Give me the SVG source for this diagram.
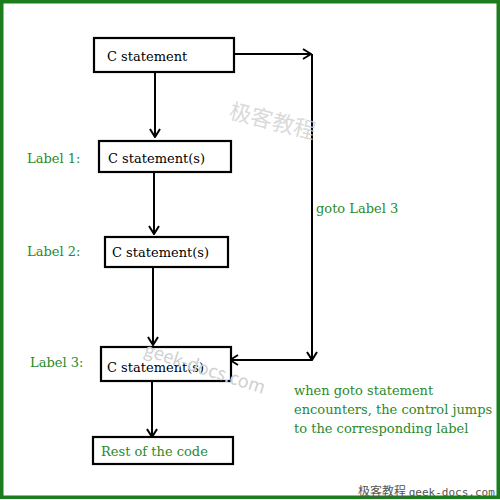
<svg xmlns="http://www.w3.org/2000/svg" width="500" height="500" viewBox="0 0 500 500">
<style>
.box{fill:#fff;stroke:#000;stroke-width:2.2}
.t{font-family:"DejaVu Serif","Liberation Serif",serif;font-size:13px;fill:#000}
.g{font-family:"DejaVu Serif","Liberation Serif",serif;font-size:13px;fill:#2a8a2a}
.ln{fill:none;stroke:#000;stroke-width:2}
.wm{font-family:"Noto Sans CJK SC","DejaVu Sans Mono",sans-serif;fill:#d0d0d0}
</style>
<defs>
<marker id="ah" viewBox="0 0 10 12" refX="9" refY="6" markerWidth="10" markerHeight="12" markerUnits="userSpaceOnUse" orient="auto">
<path d="M1,1 L9,6 L1,11" fill="none" stroke="#000" stroke-width="2"/>
</marker>
</defs>
<rect x="0" y="0" width="500" height="500" fill="#fff"/>
<rect x="1.75" y="1.75" width="496.5" height="495.5" fill="none" stroke="#1b7d1b" stroke-width="3.5"/>
<g id="connectors">
<line class="ln" x1="155" y1="73" x2="155" y2="137" marker-end="url(#ah)"/>
<line class="ln" x1="154" y1="173" x2="154" y2="234" marker-end="url(#ah)"/>
<line class="ln" x1="153" y1="268" x2="153" y2="345" marker-end="url(#ah)"/>
<line class="ln" x1="152" y1="382" x2="152" y2="437" marker-end="url(#ah)"/>
<line class="ln" x1="234" y1="54" x2="311" y2="54" marker-end="url(#ah)"/>
<line class="ln" x1="312" y1="54" x2="312" y2="360" marker-end="url(#ah)"/>
<line class="ln" x1="312" y1="360" x2="230" y2="360" marker-end="url(#ah)"/>
<text class="g" x="316" y="213">goto Label 3</text>
<text class="g" x="294" y="395">when goto statement</text>
<text class="g" x="294" y="414">encounters, the control jumps</text>
<text class="g" x="294" y="433">to the corresponding label</text>
</g>
<g id="n1">
<rect class="box" x="94" y="38" width="140" height="34"/>
<text class="t" x="107" y="61">C statement</text>
</g>
<g id="n2">
<text class="g" x="27" y="163">Label 1:</text>
<rect class="box" x="99" y="141" width="132" height="31"/>
<text class="t" x="108" y="163">C statement(s)</text>
</g>
<g id="n3">
<text class="g" x="27" y="256">Label 2:</text>
<rect class="box" x="105" y="237" width="123" height="30"/>
<text class="t" x="112" y="257">C statement(s)</text>
</g>
<g id="n4">
<text class="g" x="30" y="367">Label 3:</text>
<rect class="box" x="101" y="347" width="130" height="34"/>
<text class="t" x="107" y="372">C statement(s)</text>
</g>
<g id="n5">
<rect class="box" x="93" y="437" width="140" height="27"/>
<text class="g" x="101" y="456">Rest of the code</text>
</g>
<g id="watermarks">
<text class="wm" x="228" y="118" font-size="22" transform="rotate(14 228 118)" fill-opacity="0.8">极客教程</text>
<text class="wm" x="143" y="355" font-size="18" transform="rotate(18 143 355)">geek-docs.com</text>
<text x="358" y="496" font-family="'Noto Sans CJK SC','DejaVu Sans Mono',monospace" font-size="12" fill="#555">极客教程 <tspan font-family="'DejaVu Sans Mono',monospace" font-size="11">geek-docs.com</tspan></text>
</g>
</svg>
